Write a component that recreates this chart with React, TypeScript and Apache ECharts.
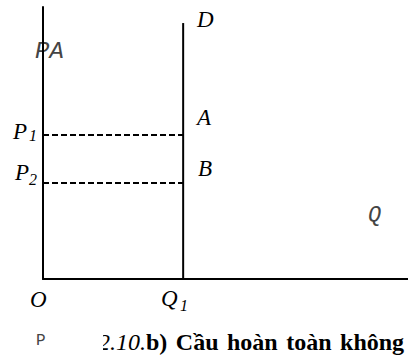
import React, { useEffect, useRef } from "react";
import * as echarts from "echarts";

// Axis domains (abstract quantity / price units)
const qDomain = [0, 100];
const pDomain = [0, 100];
// Perfectly inelastic demand at Q1
const q1 = 38.4;
const demandTop = 94.1;
// Price levels
const p1 = 52.94;
const p2 = 35.29;
// Caption (visible part)
const captionNum = "2.10.";
const captionWords = ["b)", "Cầu", "hoàn", "toàn", "không"];

const serif = "Liberation Serif";
const mono = "Liberation Mono";

export default function App() {
  const ref = useRef<HTMLDivElement>(null);
  useEffect(() => {
    if (!ref.current) return;
    const chart = echarts.init(ref.current, undefined, { renderer: "svg" });
    const rt = (text: string, x: number, y: number, st: any) => ({
      type: "text",
      x,
      y,
      style: {
        text: `{a|${text}}`,
        verticalAlign: "middle",
        align: "left",
        rich: { a: st },
      },
    });
    const it = (text: string, x: number, y: number, size = 23) =>
      rt(text, x, y, { fontFamily: serif, fontStyle: "italic", fontSize: size, fill: "#000" });
    const mt = (text: string, x: number, y: number, size: number, italic: boolean) =>
      rt(text, x, y, {
        fontFamily: mono,
        fontStyle: italic ? "italic" : "normal",
        fontSize: size,
        fill: "#444",
      });
    const caption =
      `{i|${captionNum}}` + captionWords.map((w) => `{b|${w}}`).join("{s| }");
    const dashed = { color: "#000", width: 2, type: [6, 3] };
    chart.setOption({
      animation: false,
      backgroundColor: "#fff",
      grid: { left: 43, right: 0, top: 7, bottom: 81 },
      xAxis: {
        type: "value",
        min: qDomain[0],
        max: qDomain[1],
        axisLine: { show: true, lineStyle: { color: "#000", width: 2 } },
        axisTick: { show: false },
        axisLabel: { show: false },
        splitLine: { show: false },
      },
      yAxis: {
        type: "value",
        min: pDomain[0],
        max: pDomain[1],
        axisLine: { show: true, lineStyle: { color: "#000", width: 2 } },
        axisTick: { show: false },
        axisLabel: { show: false },
        splitLine: { show: false },
      },
      series: [
        {
          type: "line",
          data: [
            [q1, 0],
            [q1, demandTop],
          ],
          symbol: "none",
          lineStyle: { color: "#000", width: 2 },
        },
        {
          type: "line",
          data: [
            [0, p1],
            [q1, p1],
          ],
          symbol: "none",
          lineStyle: dashed,
        },
        {
          type: "line",
          data: [
            [0, p2],
            [q1, p2],
          ],
          symbol: "none",
          lineStyle: dashed,
        },
      ],
      graphic: [
        it("D", 197, 19.5),
        it("A", 197, 117.5),
        it("B", 198, 168.5),
        it("O", 30, 299),
        it("Q", 161, 298),
        it("1", 180, 305.6, 16),
        it("P", 13, 131.5),
        it("1", 29, 135.6, 16),
        it("P", 15, 172.5),
        it("2", 29, 179.6, 16),
        mt("PA", 35, 51.6, 24, true),
        mt("Q", 368, 215, 22, true),
        mt("P", 36, 341, 16, false),
        {
          type: "text",
          x: 98,
          y: 342,
          style: {
            text: caption,
            verticalAlign: "middle",
            rich: {
              i: { fontFamily: serif, fontStyle: "italic", fontSize: 24, fill: "#000" },
              b: { fontFamily: serif, fontWeight: "bold", fontSize: 24, fill: "#000" },
              s: { fontFamily: serif, fontSize: 24, width: 8.5 },
            },
          },
        },
        {
          type: "rect",
          shape: { x: 80, y: 320, width: 23, height: 36 },
          style: { fill: "#fff" },
        },
      ],
    });
    return () => chart.dispose();
  }, []);
  return (
    <div
      ref={ref}
      style={{ position: "absolute", left: 0, top: 0, width: 408, height: 360 }}
    />
  );
}
